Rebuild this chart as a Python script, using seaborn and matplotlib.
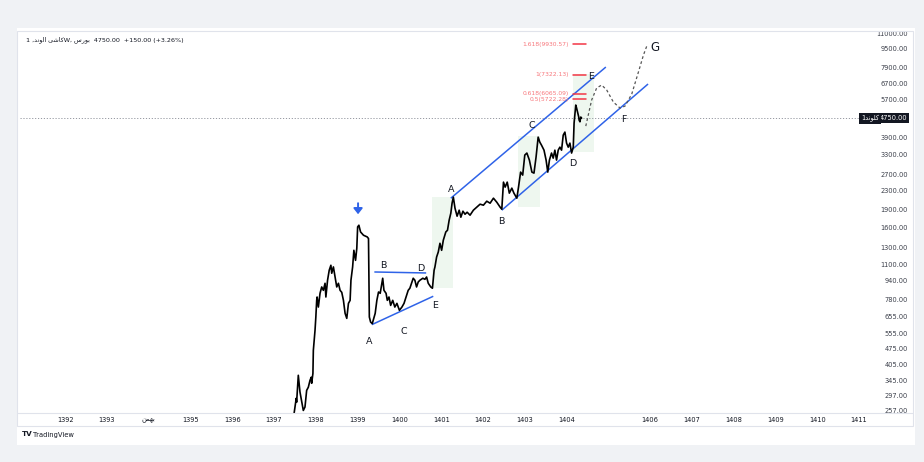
import matplotlib
matplotlib.use("Agg")
import matplotlib.pyplot as plt
from matplotlib.patches import Rectangle
from matplotlib.lines import Line2D
from matplotlib.ticker import FixedLocator, FixedFormatter, NullLocator, NullFormatter
import numpy as np
import pandas as pd
import seaborn as sns

# ---------------- data ----------------
years = [
    1397.48, 1397.53, 1397.54, 1397.58, 1397.62, 1397.70, 1397.74, 1397.78, 1397.82, 1397.86,
    1397.89, 1397.90, 1397.93, 1397.94, 1397.98, 1398.00, 1398.02, 1398.03, 1398.06, 1398.10,
    1398.14, 1398.18, 1398.22, 1398.24, 1398.28, 1398.32, 1398.36, 1398.38, 1398.42, 1398.46,
    1398.50, 1398.54, 1398.58, 1398.62, 1398.66, 1398.70, 1398.74, 1398.78, 1398.82, 1398.84,
    1398.88, 1398.91, 1398.95, 1398.98, 1399.00, 1399.03, 1399.07, 1399.14, 1399.23, 1399.26,
    1399.28, 1399.31, 1399.35, 1399.42, 1399.46, 1399.50, 1399.54, 1399.58, 1399.60, 1399.63,
    1399.68, 1399.71, 1399.75, 1399.79, 1399.84, 1399.89, 1399.94, 1400.00, 1400.06, 1400.11,
    1400.16, 1400.21, 1400.25, 1400.29, 1400.33, 1400.37, 1400.41, 1400.45, 1400.49, 1400.56,
    1400.61, 1400.65, 1400.69, 1400.75, 1400.79, 1400.83, 1400.85, 1400.89, 1400.93, 1400.97,
    1401.01, 1401.05, 1401.11, 1401.15, 1401.19, 1401.23, 1401.26, 1401.29, 1401.33, 1401.38,
    1401.43, 1401.47, 1401.52, 1401.57, 1401.62, 1401.69, 1401.77, 1401.85, 1401.93, 1402.01,
    1402.09, 1402.17, 1402.25, 1402.33, 1402.41, 1402.45, 1402.49, 1402.53, 1402.58, 1402.63,
    1402.69, 1402.74, 1402.81, 1402.85, 1402.90, 1402.95, 1403.00, 1403.05, 1403.11, 1403.17,
    1403.22, 1403.27, 1403.32, 1403.36, 1403.40, 1403.46, 1403.51, 1403.55, 1403.59, 1403.64,
    1403.68, 1403.72, 1403.76, 1403.80, 1403.84, 1403.88, 1403.92, 1403.96, 1404.00, 1404.04,
    1404.08, 1404.12, 1404.16, 1404.18, 1404.21, 1404.22, 1404.24, 1404.27, 1404.29, 1404.30,
    1404.32, 1404.34, 1404.36,
]
prices = [
    250, 290, 279, 365, 309, 257, 266, 314, 324, 347,
    358, 337, 372, 468, 571, 653, 771, 797, 721, 827,
    881, 852, 914, 797, 942, 1041, 1094, 1010, 1076, 973,
    881, 914, 852, 835, 771, 677, 644, 748, 771, 942,
    1076, 1270, 1149, 1296, 1604, 1631, 1525, 1476, 1451, 1428,
    653, 621, 611, 677, 771, 838, 827, 914, 961, 852,
    827, 771, 797, 733, 771, 721, 748, 698, 721, 748,
    797, 852, 870, 914, 961, 942, 881, 926, 942, 961,
    951, 973, 914, 881, 870, 1041, 1076, 1188, 1249, 1362,
    1270, 1404, 1525, 1551, 1715, 1839, 2032, 2158, 1933, 1785,
    1895, 1767, 1876, 1820, 1857, 1803, 1895, 1953, 2012, 1992,
    2073, 2032, 2136, 2052, 1953, 1914, 2507, 2385, 2507, 2246,
    2361, 2246, 2136, 2385, 2771, 2689, 3284, 3351, 3124, 2771,
    2743, 3220, 3928, 3736, 3626, 3449, 3124, 2771, 3124, 3351,
    3185, 3449, 3124, 3449, 3554, 3449, 4008, 4130, 3700, 3554,
    3700, 3351, 3554, 4518, 5146, 5409, 5249, 4994, 4812, 4656,
    4578, 4798, 4750,
]
last_price = 4750.00

# projected path (dashed)
proj_years = [1404.46, 1404.60, 1404.72, 1404.84, 1404.96, 1405.12, 1405.28, 1405.40,
              1405.56, 1405.72, 1405.84, 1405.92]
proj_prices = [4385, 5687, 6412, 6606, 6286, 5574, 5249, 5356, 6038, 7524, 8911, 9751]

# trend lines (two anchor points each)
tri_upper_x, tri_upper_y = [1399.40, 1400.64], [1023, 1013]
tri_lower_x, tri_lower_y = [1399.34, 1400.81], [605, 803]
ch_upper_x, ch_upper_y = [1401.23, 1404.94], [2136, 7903]
ch_lower_x, ch_lower_y = [1402.45, 1405.95], [1895, 6673]

# highlighted zones: (x0, x1, low, high)
zone_x0 = [1400.78, 1402.84, 1404.15]
zone_x1 = [1401.28, 1403.36, 1404.66]
zone_lo = [870, 1953, 3381]
zone_hi = [2158, 3968, 7378]

# fibonacci levels
fib_ratio = ["1.618", "1", "0.618", "0.5"]
fib_price = [9930.57, 7322.13, 6065.09, 5722.28]
fib_x0, fib_x1 = 1404.15, 1404.46

# wave labels
wave_text = ["A", "B", "C", "D", "E", "A", "B", "C", "D", "E", "F", "G"]
wave_x = [1399.27, 1399.61, 1400.11, 1400.52, 1400.85, 1401.23, 1402.45, 1403.17,
          1404.15, 1404.58, 1405.37, 1406.11]
wave_y = [512, 1094, 566, 1062, 733, 2337, 1698, 4429, 3029, 7157, 4703, 9652]

# top marker arrow
arrow_x, arrow_top, arrow_bottom = 1399.01, 2032, 1820

# axes ticks
x_tick_vals = [1392, 1393, 1394, 1395, 1396, 1397, 1398, 1399, 1400, 1401, 1402, 1403,
               1404, 1406, 1407, 1408, 1409, 1410, 1411]
x_tick_text = ["1392", "1393", "بهمن", "1395", "1396", "1397", "1398", "1399", "1400",
               "1401", "1402", "1403", "1404", "1406", "1407", "1408", "1409", "1410", "1411"]
y_tick_vals = [257, 297, 345, 405, 475, 555, 655, 780, 940, 1100, 1300, 1600, 1900,
               2300, 2700, 3300, 3900, 5700, 6700, 7900, 9500, 11000]

symbol_desc = "کاشی الوند"
symbol_code = "کلوند"
exchange = "بورس"
change_text = "+150.00 (+3.26%)"

# ---------------- simple Arabic-script shaping for display ----------------
FORMS = {
    'ا': ('\uFE8D', '\uFE8E', None, None),
    'ب': ('\uFE8F', '\uFE90', '\uFE91', '\uFE92'),
    'د': ('\uFEA9', '\uFEAA', None, None),
    'ر': ('\uFEAD', '\uFEAE', None, None),
    'س': ('\uFEB1', '\uFEB2', '\uFEB3', '\uFEB4'),
    'ش': ('\uFEB5', '\uFEB6', '\uFEB7', '\uFEB8'),
    'ل': ('\uFEDD', '\uFEDE', '\uFEDF', '\uFEE0'),
    'م': ('\uFEE1', '\uFEE2', '\uFEE3', '\uFEE4'),
    'ن': ('\uFEE5', '\uFEE6', '\uFEE7', '\uFEE8'),
    'ه': ('\uFEE9', '\uFEEA', '\uFEEB', '\uFEEC'),
    'و': ('\uFEED', '\uFEEE', None, None),
    'ک': ('\uFB8E', '\uFB8F', '\uFB90', '\uFB91'),
    'ی': ('\uFBFC', '\uFBFD', '\uFBFE', '\uFBFF'),
}


def shape_word(word):
    out = []
    for i, ch in enumerate(word):
        f = FORMS.get(ch)
        if f is None:
            out.append(ch)
            continue
        prev = word[i - 1] if i > 0 else None
        nxt = word[i + 1] if i + 1 < len(word) else None
        jp = prev in FORMS and FORMS[prev][2] is not None
        jn = nxt in FORMS and f[2] is not None
        if jp and jn:
            out.append(f[3])
        elif jp:
            out.append(f[1])
        elif jn:
            out.append(f[2])
        else:
            out.append(f[0])
    return "".join(reversed(out))


def shape_phrase(text):
    return " ".join(shape_word(w) for w in reversed(text.split(" ")))


# ---------------- figure ----------------
sns.set_theme(style="white")
plt.rcParams["font.family"] = ["DejaVu Sans"]

W, H = 924, 462
fig = plt.figure(figsize=(W / 100, H / 100), dpi=100)
fig.patch.set_facecolor("#f0f2f5")


def fx(px):
    return px / W


def fy(py):
    return 1 - py / H


fig.add_artist(Rectangle((fx(17), fy(445)), fx(915) - fx(17), fy(28) - fy(445),
                         transform=fig.transFigure, fc="white", ec="none", zorder=-5))
fig.add_artist(Rectangle((fx(17), fy(426)), fx(913) - fx(17), fy(31) - fy(426),
                         transform=fig.transFigure, fc="none", ec="#e0e3eb", lw=0.8, zorder=5))
fig.add_artist(Line2D([fx(17), fx(913)], [fy(412.5), fy(412.5)], transform=fig.transFigure,
                      color="#e0e3eb", lw=0.8, zorder=5))

ax = fig.add_axes([fx(20), fy(412.5), fx(862) - fx(20), fy(33) - fy(412.5)])
ax.set_facecolor("none")
ax.set_yscale("log")
ax.set_xlim(1390.92, 1411.07)
ax.set_ylim(251.8, 11100)
for s in ax.spines.values():
    s.set_visible(False)
ax.grid(False)

TXT = "#131722"
BLUE = "#2f63e8"
RED = "#f23645"

# zones
for x0, x1, lo, hi in zip(zone_x0, zone_x1, zone_lo, zone_hi):
    ax.add_patch(Rectangle((x0, lo), x1 - x0, hi - lo, fc="#4caf50", alpha=0.09, ec="none", zorder=1))

# last price dotted line
ax.axhline(last_price, color="#9598a1", lw=0.7, ls=(0, (1.2, 1.8)), zorder=2)

# price series
df = pd.DataFrame({"year": years, "price": prices})
sns.lineplot(data=df, x="year", y="price", ax=ax, color="black", lw=1.2,
             estimator=None, sort=False, legend=False, zorder=4)

# projection
dfp = pd.DataFrame({"year": proj_years, "price": proj_prices})
sns.lineplot(data=dfp, x="year", y="price", ax=ax, color="#555555", lw=0.9,
             estimator=None, sort=False, legend=False, zorder=4)
ax.lines[-1].set_linestyle((0, (2.2, 2.0)))

# trend lines
for xs, ys in [(tri_upper_x, tri_upper_y), (tri_lower_x, tri_lower_y),
               (ch_upper_x, ch_upper_y), (ch_lower_x, ch_lower_y)]:
    ax.plot(xs, ys, color=BLUE, lw=1.1, zorder=3, solid_capstyle="butt")

# fib levels
for r, p in zip(fib_ratio, fib_price):
    ax.plot([fib_x0, fib_x1], [p, p], color=RED, lw=1.1, zorder=3)
    ax.text(fib_x0 - 0.09, p, f"{r}({p:.2f})", color="#f7767b", fontsize=4.3,
            ha="right", va="center", zorder=5)

# wave labels
for t, x, y in zip(wave_text, wave_x, wave_y):
    ax.text(x, y, t, fontsize=(8.5 if t == "G" else 6.8), color=TXT,
            ha="center", va="center", zorder=6)

# arrow marker
ax.annotate("", xy=(arrow_x, arrow_bottom), xytext=(arrow_x, arrow_top),
            arrowprops=dict(arrowstyle="-|>,head_width=0.22,head_length=0.28",
                            color=BLUE, lw=1.4, shrinkA=0, shrinkB=0), zorder=6)

# ticks
ax.set_xlabel("")
ax.set_ylabel("")
ax.xaxis.set_major_locator(FixedLocator(x_tick_vals))
ax.xaxis.set_major_formatter(FixedFormatter(
    [shape_word(t) if not t.isdigit() else t for t in x_tick_text]))
ax.yaxis.set_major_locator(FixedLocator(y_tick_vals))
ax.yaxis.set_major_formatter(FixedFormatter([f"{v:.2f}" for v in y_tick_vals]))
ax.yaxis.set_minor_locator(NullLocator())
ax.yaxis.set_minor_formatter(NullFormatter())
ax.xaxis.set_minor_locator(NullLocator())
ax.yaxis.tick_right()
ax.tick_params(axis="x", length=0, pad=3.2, labelsize=4.8, labelcolor=TXT)
ax.tick_params(axis="y", length=0, pad=33, labelsize=4.8, labelcolor="#3b3f4a")
for lab in ax.get_yticklabels():
    lab.set_horizontalalignment("right")

# right-side price tags
ytr = ax.get_yaxis_transform()
ax.text(1.0374, last_price, f"{last_price:.2f}", transform=ytr, fontsize=4.8, color="white",
        ha="center", va="center", clip_on=False, zorder=10,
        bbox=dict(boxstyle="square,pad=0.3", fc="#131722", ec="none"))
ax.text(1.0095, last_price, "1" + shape_word(symbol_code), transform=ytr, fontsize=4.8,
        color="white", ha="center", va="center", clip_on=False, zorder=10,
        bbox=dict(boxstyle="square,pad=0.3", fc="#131722", ec="none"))

# header text
title_visual = ("1 ," + shape_phrase(symbol_desc) + "W, " + shape_word(exchange) +
                f"  {last_price:.2f}  {change_text}")
fig.text(fx(26), fy(39.5), title_visual, fontsize=4.6, color=TXT, va="center", ha="left")

# logo
fig.text(fx(22), fy(434.5), "TV", fontsize=5.2, weight="bold", color=TXT, va="center")
fig.text(fx(33), fy(434.5), "TradingView", fontsize=4.9, color=TXT, va="center")

fig.savefig("out.png", dpi=100, facecolor=fig.get_facecolor())
